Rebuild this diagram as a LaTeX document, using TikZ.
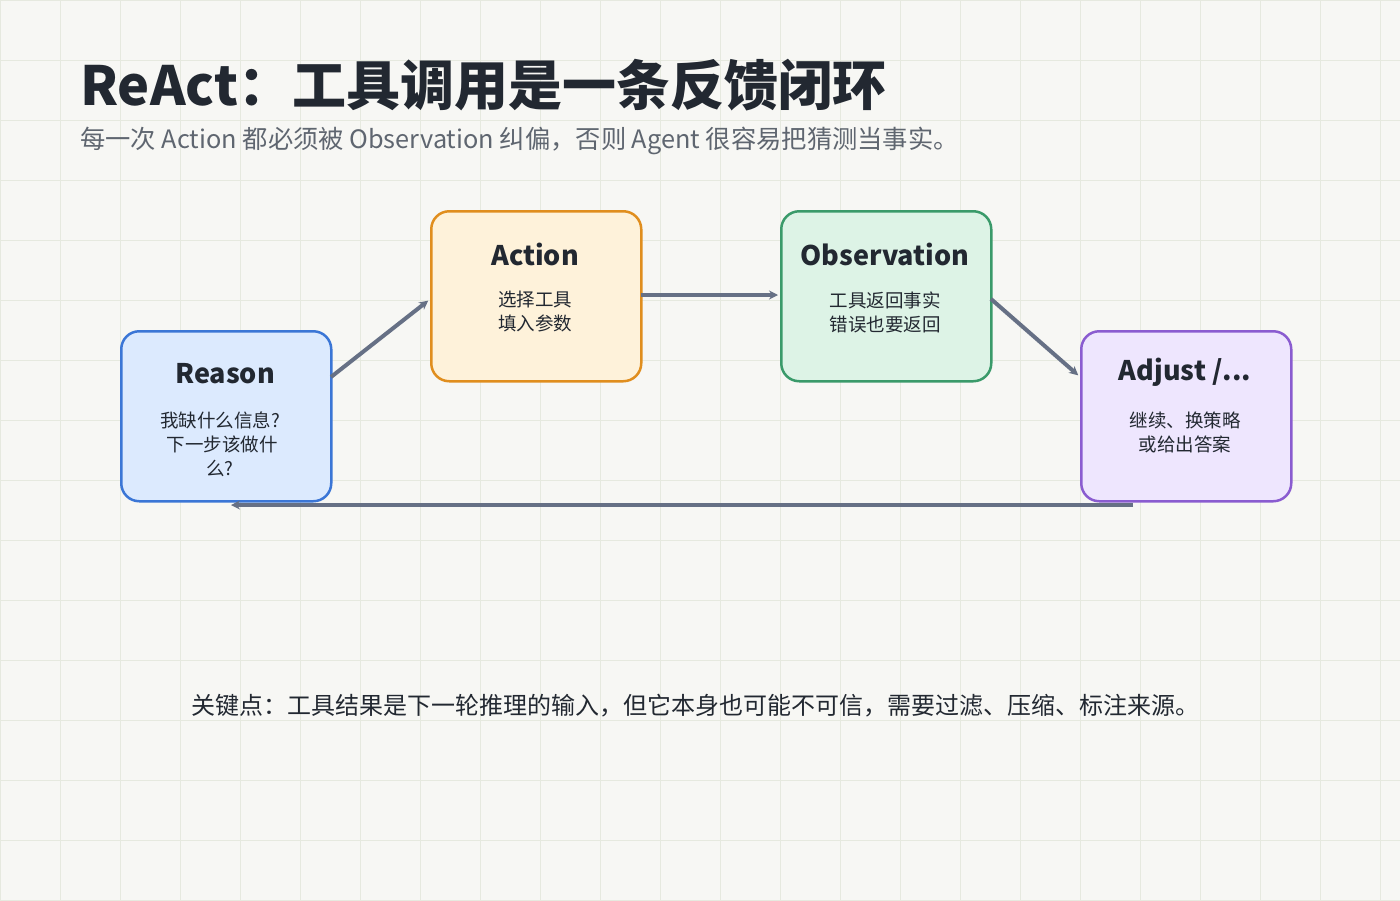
\documentclass[tikz,border=0pt]{standalone}
\usepackage{fontspec}
\setmainfont{Noto Sans CJK SC}
\usetikzlibrary{arrows.meta}
\definecolor{bg}{HTML}{F7F7F4}
\definecolor{gridc}{HTML}{E6E9DF}
\definecolor{ink}{HTML}{222831}
\definecolor{sub}{HTML}{5F6670}
\definecolor{arr}{HTML}{667085}
\definecolor{rF}{HTML}{DCEAFE}\definecolor{rB}{HTML}{3B76D6}
\definecolor{aF}{HTML}{FEF2DA}\definecolor{aB}{HTML}{E08E1E}
\definecolor{oF}{HTML}{DDF3E6}\definecolor{oB}{HTML}{3A9A6A}
\definecolor{jF}{HTML}{EEE6FE}\definecolor{jB}{HTML}{8A5CD0}
\tikzset{
 box/.style={draw, line width=2.5pt, rounded corners=18pt, minimum width=210pt, minimum height=170pt, anchor=north west},
 ttl/.style={font=\bfseries\fontsize{27}{30}\selectfont, text=ink},
 bdy/.style={font=\fontsize{18.5}{24}\selectfont, text=ink, align=center},
 conn/.style={draw=arr, line width=4pt, -{Stealth[length=9pt,width=9pt]}, shorten >=1pt}
}
\begin{document}
\begin{tikzpicture}[x=1pt,y=-1pt]
\fill[bg] (0,0) rectangle (1400,900);
\useasboundingbox (0,0) rectangle (1400,900);
\foreach \i in {0,60,...,1400} \draw[gridc, line width=1pt] (\i,0) -- (\i,900);
\foreach \j in {0,60,...,900} \draw[gridc, line width=1pt] (0,\j) -- (1400,\j);
\node[anchor=base west, inner sep=0, font=\bfseries\fontsize{54}{60}\selectfont, text=ink] (title) at (80,105) {ReAct：工具调用是一条反馈闭环};
\node[anchor=base west, inner sep=0, font=\fontsize{25.3}{28}\selectfont, text=sub] (subtitle) at (80,148) {每一次 Action 都必须被 Observation 纠偏，否则 Agent 很容易把猜测当事实。};
\node[box, draw=rB, fill=rF] (reason) at (120,330) {};
\node[box, draw=aB, fill=aF] (action) at (430,210) {};
\node[box, draw=oB, fill=oF] (obs) at (780,210) {};
\node[box, draw=jB, fill=jF] (adjust) at (1080,330) {};
\node[ttl] (reasonT) at (225,374) {Reason};
\node[bdy] (reasonB) at (220,444) {我缺什么信息?\\\ 下一步该做什\\么?};
\node[ttl] (actionT) at (535,254) {Action};
\node[bdy] (actionB) at (535,312) {选择工具\\填入参数};
\node[ttl] (obsT) at (885,254) {Observation};
\node[bdy] (obsB) at (885,312) {工具返回事实\\错误也要返回};
\node[ttl] (adjustT) at (1185,372) {Adjust /...};
\node[bdy] (adjustB) at (1185,432) {继续、换策略\\或给出答案};
\coordinate (r1) at (331,377); \coordinate (a1) at (429,300);
\coordinate (a2) at (641,295); \coordinate (o1) at (779,295);
\coordinate (o2) at (991,299); \coordinate (j1) at (1079,376);
\coordinate (j2) at (1133,505); \coordinate (r2) at (230,505);
\draw[conn] (r1) -- (a1);
\draw[conn] (a2) -- (o1);
\draw[conn] (o2) -- (j1);
\draw[conn] (j2) -- (r2);
\node[anchor=base, inner sep=0, font=\fontsize{24}{28}\selectfont, text=ink] (note) at (695,714) {关键点：工具结果是下一轮推理的输入，但它本身也可能不可信，需要过滤、压缩、标注来源。};
\end{tikzpicture}
\end{document}
